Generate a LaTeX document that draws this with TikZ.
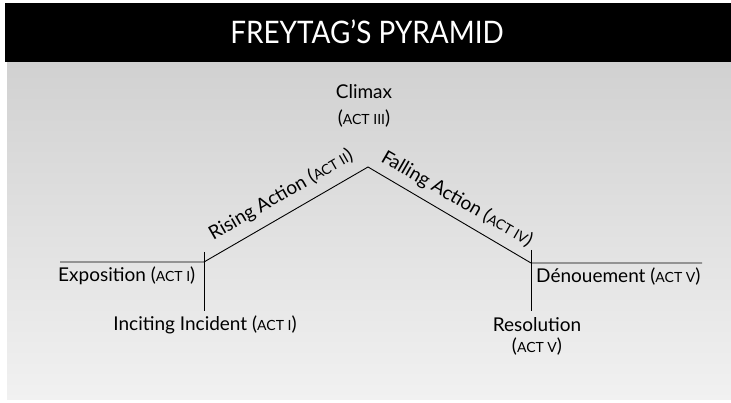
\documentclass[tikz,border=0pt]{standalone}
\usepackage{fontspec}
\setmainfont{Lato}
\usepackage{tikz}
\definecolor{bgtop}{RGB}{209,209,209}
\definecolor{bgbottom}{RGB}{241,241,241}
\newcommand{\actno}[1]{{\fontsize{14}{16}\selectfont ACT #1}}
\tikzset{
    lbl/.style={inner sep=0pt, font=\fontsize{19}{22}\selectfont},
    plot/.style={line width=0.9pt}
}
\begin{document}
\begin{tikzpicture}[x=1pt, y=1pt]
                    \useasboundingbox (0, 0) rectangle (731, 403);
                    \shade[top color=bgtop, bottom color=bgbottom] (7, 3) rectangle (731, 341);
                    \fill[black] (5, 341) rectangle (731, 400);
                    \node[text=white, font=\fontsize{31}{34}\selectfont, xscale=0.9] (title) at (367, 371) {FREYTAG’S PYRAMID};
                    \coordinate (left) at (60, 141);
                    \coordinate (rise) at (204, 141);
                    \coordinate (peak) at (368, 236);
                    \coordinate (fall) at (531, 140);
                    \coordinate (right) at (702, 140);
                    \coordinate (risetop) at (204, 151);
                    \coordinate (risebot) at (204, 92);
                    \coordinate (falltop) at (531, 153);
                    \coordinate (fallbot) at (531, 92);
                    \draw[plot] (left) -- (rise) -- (peak) -- (fall) -- (right);
                    \draw[plot] (risetop) -- (risebot);
                    \draw[plot] (falltop) -- (fallbot);
                    \node[lbl] (climax) at (364, 311) {Climax};
                    \node[lbl] (climaxact) at (364, 284) {(\actno{III})};
                    \node[lbl, anchor=west] (expo) at (58, 127) {Exposition (\actno{I})};
                    \node[lbl] (incite) at (205, 78) {Inciting Incident (\actno{I})};
                    \node[lbl, rotate=30] (rising) at (281, 208) {Rising Action (\actno{II})};
                    \node[lbl, rotate=-30] (falling) at (457, 204) {Falling Action (\actno{IV})};
                    \node[lbl, anchor=west] (denoue) at (536, 126) {Dénouement (\actno{V})};
                    \node[lbl] (resol) at (537, 78) {Resolution};
                    \node[lbl] (resolact) at (537, 56) {(\actno{V})};
                \end{tikzpicture}
\end{document}
